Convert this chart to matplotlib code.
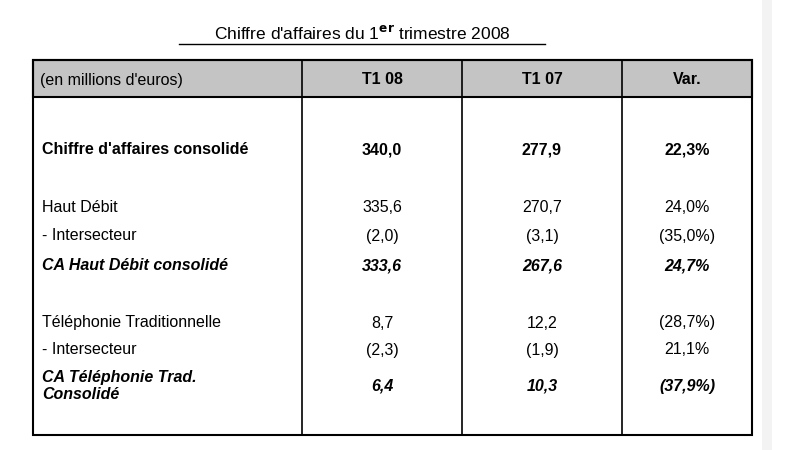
import matplotlib.pyplot as plt

plt.rcParams['font.family'] = ['Liberation Sans', 'DejaVu Sans']

title = "Chiffre d'affaires du 1$^{\\mathbf{er}}$ trimestre 2008"
headers = ["(en millions d'euros)", "T1 08", "T1 07", "Var."]
labels = ["Chiffre d'affaires consolidé", "Haut Débit", "- Intersecteur",
          "CA Haut Débit consolidé", "Téléphonie Traditionnelle", "- Intersecteur",
          "CA Téléphonie Trad.\nConsolidé"]
t1_08 = ["340,0", "335,6", "(2,0)", "333,6", "8,7", "(2,3)", "6,4"]
t1_07 = ["277,9", "270,7", "(3,1)", "267,6", "12,2", "(1,9)", "10,3"]
var = ["22,3%", "24,0%", "(35,0%)", "24,7%", "(28,7%)", "21,1%", "(37,9%)"]
styles = ["bold", "normal", "normal", "bolditalic", "normal", "normal", "bolditalic"]

row_y = [150, 208, 236, 266, 323, 350, 386]
col_edges = [33, 302, 462, 622, 752]
fs = 11.5

fig = plt.figure(figsize=(8, 4.5), dpi=100)
ax = fig.add_axes([0, 0, 1, 1])
ax.set_xlim(0, 800)
ax.set_ylim(450, 0)
ax.axis('off')

# faint shadow on the right edge
ax.add_patch(plt.Rectangle((762, 0), 10, 450, color='#f3f3f3', lw=0))

# title with underline
ax.text(362, 34, title, ha='center', va='center', fontsize=12.5)
ax.plot([179, 545], [44, 44], color='black', lw=1)

# header band and frame
ax.add_patch(plt.Rectangle((33, 60), 719, 37, facecolor='#c4c4c4', edgecolor='black', lw=1.5))
ax.add_patch(plt.Rectangle((33, 60), 719, 375, facecolor='none', edgecolor='black', lw=1.5))
for x in col_edges[1:-1]:
    ax.plot([x, x], [60, 435], color='black', lw=1.2)

ax.text(40, 80, headers[0], ha='left', va='center', fontsize=fs)
for i, h in enumerate(headers[1:]):
    cx = (col_edges[i + 1] + col_edges[i + 2]) / 2
    ax.text(cx, 79, h, ha='center', va='center', fontsize=fs, fontweight='bold')

for y, lab, a, b, v, s in zip(row_y, labels, t1_08, t1_07, var, styles):
    weight = 'bold' if 'bold' in s else 'normal'
    style = 'italic' if 'italic' in s else 'normal'
    ax.text(42, y, lab, ha='left', va='center', fontsize=fs, fontweight=weight,
            fontstyle=style, linespacing=1.2)
    for i, val in enumerate([a, b, v]):
        cx = (col_edges[i + 1] + col_edges[i + 2]) / 2
        ax.text(cx, y, val, ha='center', va='center', fontsize=fs,
                fontweight=weight, fontstyle=style)

fig.savefig('out.png', dpi=100)
